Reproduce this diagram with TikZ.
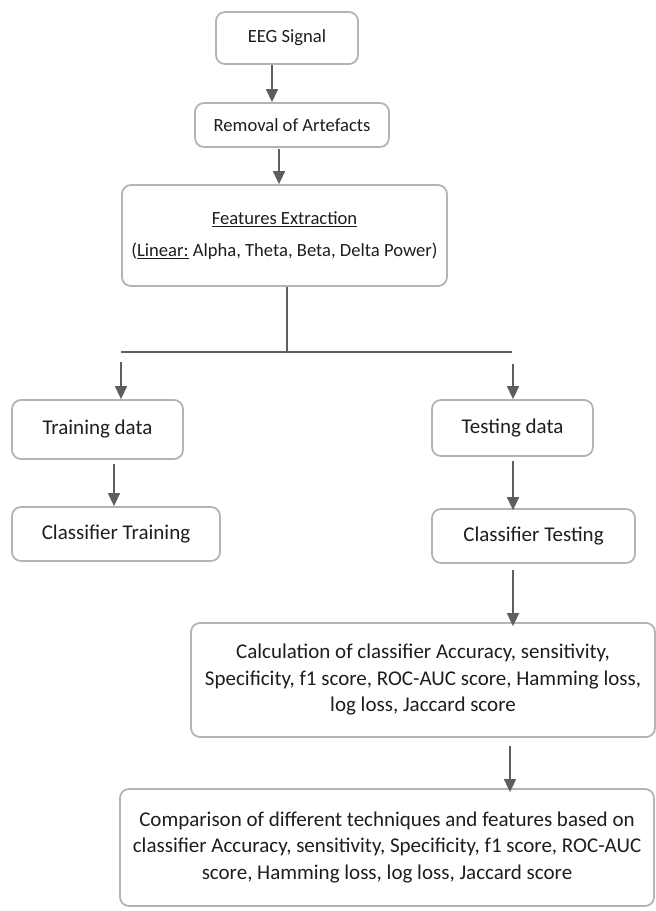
\documentclass[tikz,border=0pt]{standalone}
\usepackage{fontspec}
\setmainfont{Carlito}
\usetikzlibrary{arrows.meta}
\definecolor{boxline}{HTML}{B4B4B4}
\definecolor{arrline}{HTML}{5E5E5E}
\definecolor{txt}{HTML}{1E1E1E}
\tikzset{
  box/.style={draw=boxline, line width=1.8pt, rounded corners=9pt, fill=white,
    text=txt, align=center, inner sep=0pt},
  big/.style={font=\fontsize{21}{26.5}\selectfont},
  small/.style={font=\fontsize{18.6}{22}\selectfont},
  arr/.style={draw=arrline, line width=1.6pt,
    -{Triangle[width=12pt,length=13pt]}, arrline},
  link/.style={draw=arrline, line width=1.3pt}
}
\begin{document}
\begin{tikzpicture}[x=1pt,y=-1pt]
\useasboundingbox (0,0) rectangle (656,911);

% process boxes
\node[box, small, minimum width=142pt, minimum height=52pt] (eeg) at (287,38) {EEG Signal};
\node[box, small, minimum width=194pt, minimum height=44pt] (rem) at (292,125) {Removal of Artefacts};
\node[box, small, minimum width=325pt, minimum height=101pt, align=center] (feat) at (284.5,235.5)
  {\underline{Features Extraction}\\[10pt](\underline{Linear:} Alpha, Theta, Beta, Delta Power)};
\node[box, big, minimum width=171pt, minimum height=59pt] (train) at (97.5,429.5) {Training data};
\node[box, big, minimum width=208pt, minimum height=54pt] (ctrain) at (116,534) {Classifier Training};
\node[box, big, minimum width=161pt, minimum height=56pt] (test) at (512.5,428) {Testing data};
\node[box, big, minimum width=203pt, minimum height=54pt] (ctest) at (533.5,536) {Classifier Testing};
\node[box, big, minimum width=464pt, minimum height=114pt] (calc) at (423,680)
  {Calculation of classifier Accuracy, sensitivity,\\
   Specificity, f1 score, ROC-AUC score, Hamming loss,\\
   log loss, Jaccard score};
\node[box, big, minimum width=534pt, minimum height=117pt] (comp) at (387,847.5)
  {Comparison of different techniques and features based on\\
   classifier Accuracy, sensitivity, Specificity, f1 score, ROC-AUC\\
   score, Hamming loss, log loss, Jaccard score};

% branching point below the feature extraction
\coordinate (split) at (287,352);
\coordinate (splitL) at (121,352);
\coordinate (splitR) at (512,352);
\coordinate (startL) at (121,362);
\coordinate (startR) at (513,364);

% connectors
\draw[arr] (eeg.south -| 272,0) -- (rem.north -| 272,0);
\draw[arr] ([yshift=-1pt]rem.south -| 279,0) -- (feat.north -| 279,0);
\draw[link] (feat.south -| split) -- (split);
\draw[link] (splitL) -- (splitR);
\draw[arr] (startL) -- (train.north -| startL);
\draw[arr] (startR) -- (test.north -| startR);
\draw[arr] ([yshift=-4pt]train.south -| 114,0) -- (ctrain.north -| 114,0);
\draw[arr] ([yshift=-4pt]test.south -| 513,0) -- ([yshift=-2pt]ctest.north -| 513,0);
\draw[arr] ([yshift=-6pt]ctest.south -| 513,0) -- ([yshift=-4pt]calc.north -| 513,0);
\draw[arr] ([yshift=-8pt]calc.south -| 510,0) -- ([yshift=-4pt]comp.north -| 510,0);
\end{tikzpicture}
\end{document}
